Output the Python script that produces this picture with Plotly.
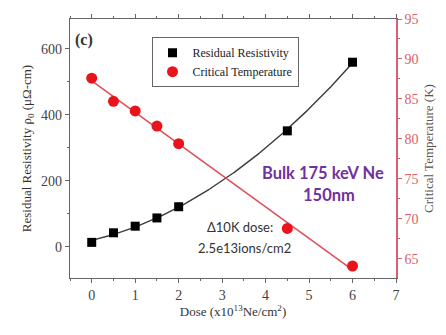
import numpy as np
import plotly.graph_objects as go

# Measured data
dose = [0, 0.5, 1, 1.5, 2, 4.5, 6]                 # x10^13 Ne/cm^2
resistivity = [13, 42, 62, 87, 121, 351, 559]      # uOhm-cm
tc = [87.6, 84.7, 83.5, 81.6, 79.4, 68.8, 64.1]    # K

x_ticks = [0, 1, 2, 3, 4, 5, 6, 7]
rho_ticks = [0, 200, 400, 600]
tc_ticks = [65, 70, 75, 80, 85, 90, 95]

SERIF = "Liberation Serif"
SANS = "Lato"
RED = "#e8141c"
AXRED = "#d9606a"

# Fitted curves
xf = np.linspace(0, 6, 200)
rho_fit = np.polyval(np.polyfit(dose, resistivity, 2), xf)
tc_fit = np.polyval(np.polyfit(dose, tc, 1), [0, 6])

fig = go.Figure()
fig.add_trace(go.Scatter(x=xf, y=rho_fit, mode="lines", line=dict(color="#3a3a3a", width=1.4),
                         showlegend=False, hoverinfo="skip"))
fig.add_trace(go.Scatter(x=[0, 6], y=tc_fit, mode="lines", line=dict(color="#e0505a", width=1.6),
                         yaxis="y2", showlegend=False, hoverinfo="skip"))
fig.add_trace(go.Scatter(x=dose, y=resistivity, mode="markers", name="Residual Resistivity",
                         marker=dict(symbol="square", size=9, color="black")))
fig.add_trace(go.Scatter(x=dose, y=tc, mode="markers", name="Critical Temperature",
                         marker=dict(symbol="circle", size=11, color=RED), yaxis="y2"))

fig.update_layout(
    width=446, height=335,
    margin=dict(l=70, r=49, t=12, b=57),
    plot_bgcolor="white", paper_bgcolor="white",
    font=dict(family=SERIF, size=12, color="#333"),
    xaxis=dict(range=[-0.5, 7], tickvals=x_ticks, showgrid=False, zeroline=False,
               showline=True, linecolor="#666", linewidth=1.2, mirror="ticks",
               ticks="outside", ticklen=4, tickcolor="#666",
               minor=dict(dtick=0.5, ticks="outside", ticklen=2, tickcolor="#666"),
               tickfont=dict(family=SERIF, size=14, color="#444"),
               title=dict(text="Dose (x10<sup>13</sup>Ne/cm<sup>2</sup>)", standoff=4,
                          font=dict(family=SERIF, size=13, color="#333"))),
    yaxis=dict(range=[-95, 690], tickvals=rho_ticks, showgrid=False, zeroline=False,
               showline=True, linecolor="#666", linewidth=1.2,
               ticks="outside", ticklen=4, tickcolor="#666",
               minor=dict(dtick=100, ticks="outside", ticklen=2, tickcolor="#666"),
               tickfont=dict(family=SERIF, size=14, color="#444"),
               title=dict(text="Residual Resistivity ρ<sub>0</sub> (μΩ-cm)", standoff=6,
                          font=dict(family=SERIF, size=13, color="#333"))),
    yaxis2=dict(overlaying="y", side="right", range=[62.6, 95], tickvals=tc_ticks,
                showgrid=False, zeroline=False, showline=True, linecolor=AXRED, linewidth=1.5,
                ticks="outside", ticklen=4, tickcolor=AXRED,
                minor=dict(dtick=2.5, ticks="outside", ticklen=2, tickcolor=AXRED),
                tickfont=dict(family=SERIF, size=14, color=AXRED),
                title=dict(text="Critical Temperature (K)", standoff=6,
                           font=dict(family=SERIF, size=13, color="#555"))),
    legend=dict(x=0.25, y=0.93, xanchor="left", yanchor="top",
                bordercolor="#666", borderwidth=1, bgcolor="white",
                font=dict(family=SERIF, size=12, color="#222"),
                itemwidth=30, tracegroupgap=0),
    showlegend=True,
)

fig.add_annotation(x=-0.18, y=625, text="<b>(c)</b>", showarrow=False,
                   font=dict(family=SERIF, size=16, color="#333"))
fig.add_annotation(x=5.32, y=224, text="<b>Bulk 175 keV Ne</b>", showarrow=False,
                   font=dict(family=SANS, size=16.5, color="#7030a0"))
fig.add_annotation(x=5.46, y=157, text="<b>150nm</b>", showarrow=False,
                   font=dict(family=SANS, size=16.5, color="#7030a0"))
fig.add_annotation(x=3.42, y=59, text="Δ10K dose:", showarrow=False,
                   font=dict(family=SANS, size=13, color="#333"))
fig.add_annotation(x=3.51, y=-3, text="2.5e13ions/cm2", showarrow=False,
                   font=dict(family=SANS, size=13, color="#333"))

fig.write_html("out.html")
